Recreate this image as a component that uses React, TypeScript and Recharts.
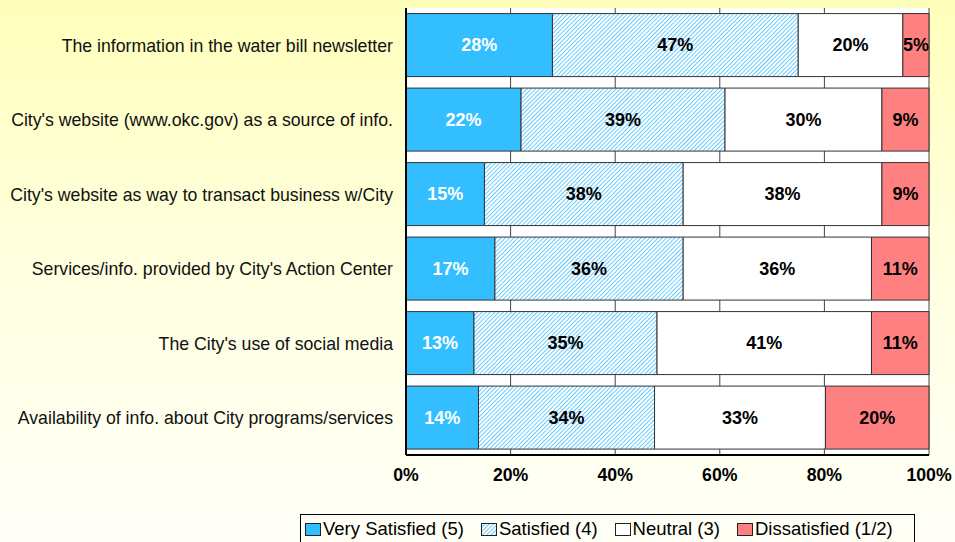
import React from "react";
import {
  BarChart,
  Bar,
  XAxis,
  YAxis,
  CartesianGrid,
  LabelList,
  Legend,
} from "recharts";

const categories = [
  "The information in the water bill newsletter",
  "City's website (www.okc.gov) as a source of info.",
  "City's website as way to transact business w/City",
  "Services/info. provided by City's Action Center",
  "The City's use of social media",
  "Availability of info. about City programs/services",
];

const verySatisfied = [28, 22, 15, 17, 13, 14];
const satisfied = [47, 39, 38, 36, 35, 34];
const neutral = [20, 30, 38, 36, 41, 33];
const dissatisfied = [5, 9, 9, 11, 11, 20];

const xTicks = [0, 0.2, 0.4, 0.6, 0.8, 1];

const seriesInfo = [
  { key: "vs", name: "Very Satisfied (5)", fill: "#33BFFF", label: "#ffffff" },
  { key: "sat", name: "Satisfied (4)", fill: "url(#hatch)", label: "#000000" },
  { key: "neu", name: "Neutral (3)", fill: "#ffffff", label: "#000000" },
  { key: "dis", name: "Dissatisfied (1/2)", fill: "#FF8080", label: "#000000" },
];

const data = categories.map((name, i) => ({
  name,
  vs: verySatisfied[i],
  sat: satisfied[i],
  neu: neutral[i],
  dis: dissatisfied[i],
}));

const font = "'Liberation Sans', Arial, sans-serif";

function LegendBox() {
  return (
    <div
      style={{
        border: "1px solid #000",
        background: "#fffff6",
        display: "flex",
        alignItems: "center",
        padding: "2px 4px",
        fontFamily: font,
        fontSize: 18.5,
        color: "#000",
        whiteSpace: "nowrap",
        height: 30,
        boxSizing: "border-box",
      }}
    >
      {seriesInfo.map((s) => (
        <span key={s.key} style={{ display: "flex", alignItems: "center", marginRight: 17 }}>
          <svg width={16} height={13} style={{ marginRight: 2 }}>
            <rect x={0.5} y={0.5} width={15} height={12} fill={s.fill} stroke="#222" />
          </svg>
          {s.name}
        </span>
      ))}
    </div>
  );
}

export default function App() {
  return (
    <div
      style={{
        position: "absolute",
        left: 0,
        top: 0,
        width: 955,
        height: 542,
        overflow: "hidden",
        background: "linear-gradient(to bottom, #ffffbb 0%, #ffffe0 50%, #fffff8 100%)",
      }}
    >
      <BarChart
        width={955}
        height={542}
        data={data}
        layout="vertical"
        stackOffset="expand"
        barCategoryGap="7.5%"
        margin={{ top: 8, right: 26, bottom: 47, left: 0 }}
      >
        <defs>
          <pattern
            id="hatch"
            patternUnits="userSpaceOnUse"
            width={3}
            height={3}
            patternTransform="rotate(45)"
          >
            <rect width={3} height={3} fill="#ffffff" />
            <line x1={0} y1={0} x2={0} y2={3} stroke="#33BBFF" strokeWidth={1.5} />
          </pattern>
        </defs>
        <CartesianGrid fill="#ffffff" stroke="#444" horizontal={false} vertical={true} />
        <XAxis
          type="number"
          domain={[0, 1]}
          ticks={xTicks}
          tickFormatter={(v: number) => `${Math.round(v * 100)}%`}
          axisLine={{ stroke: "#000", strokeWidth: 2 }}
          tickLine={false}
          tickSize={0}
          tickMargin={13}
          height={40}
          tick={{ fill: "#000", fontSize: 17.7, fontWeight: "bold", fontFamily: font }}
        />
        <XAxis
          xAxisId="top"
          orientation="top"
          type="number"
          domain={[0, 1]}
          tick={false}
          tickLine={false}
          height={0}
          axisLine={{ stroke: "#000", strokeWidth: 2 }}
        />
        <YAxis
          type="category"
          dataKey="name"
          width={406}
          axisLine={{ stroke: "#000", strokeWidth: 2 }}
          tickLine={false}
          tickSize={0}
          tickMargin={13}
          tick={{ fill: "#111", fontSize: 17.7, fontFamily: font }}
        />
        <YAxis
          yAxisId="right"
          orientation="right"
          type="category"
          dataKey="name"
          width={0}
          tick={false}
          tickLine={false}
          axisLine={{ stroke: "#000", strokeWidth: 2 }}
        />
        {seriesInfo.map((s) => (
          <Bar
            key={s.key}
            dataKey={s.key}
            name={s.name}
            stackId="a"
            fill={s.fill}
            stroke="#333"
            strokeWidth={1}
            isAnimationActive={false}
          >
            <LabelList
              dataKey={s.key}
              position="center"
              formatter={(v: number) => `${v}%`}
              fill={s.label}
              fontSize={18}
              fontWeight="bold"
              fontFamily={font}
            />
          </Bar>
        ))}
        <Legend
          layout="horizontal"
          verticalAlign="middle"
          content={() => <LegendBox />}
          wrapperStyle={{ left: 300, top: 514, width: "auto", height: "auto" }}
        />
      </BarChart>
    </div>
  );
}
